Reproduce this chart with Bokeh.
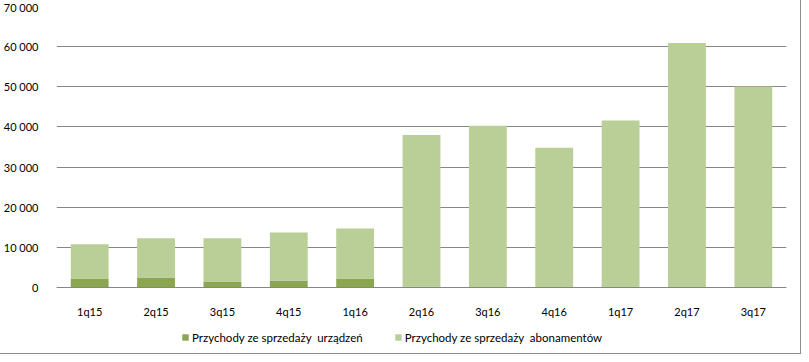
from bokeh.plotting import figure
from bokeh.models import FactorRange, CustomJSTickFormatter, Legend, LegendItem, ColumnDataSource
from bokeh.embed import file_html
from bokeh.resources import INLINE

quarters = ["1q15", "2q15", "3q15", "4q15", "1q16", "2q16", "3q16", "4q16", "1q17", "2q17", "3q17"]
devices = [2250, 2500, 1500, 1750, 2250, 250, 0, 0, 0, 0, 0]
totals = [10750, 12250, 12250, 13700, 14700, 38000, 40300, 34800, 41600, 60900, 50100]
subscriptions = [t - d for t, d in zip(totals, devices)]
series_names = ["Przychody ze sprzedaży  urządzeń", "Przychody ze sprzedaży  abonamentów"]
colors = ["#8AA650", "#BACE97"]
y_ticks = [0, 10000, 20000, 30000, 40000, 50000, 60000, 70000]

source = ColumnDataSource(dict(q=quarters, dev=devices, sub=subscriptions))

FONT = "Lato"
Y_MAX = 70000
# frame spans 340 px; 281 px hold 0..70000, the rest below 0 holds labels and legend
Y_MIN = -Y_MAX * 59 / 281

p = figure(x_range=FactorRange(*quarters), y_range=(Y_MIN, Y_MAX),
           width=793, height=346, output_backend="svg", toolbar_location=None,
           min_border_left=49, min_border_right=7, min_border_top=6, min_border_bottom=0)

r = p.vbar_stack(["dev", "sub"], x="q", width=0.57, color=colors, source=source, line_width=0)

p.outline_line_color = None
p.background_fill_color = "white"
p.border_fill_color = "white"
p.xgrid.grid_line_color = None
p.ygrid.ticker = y_ticks
p.ygrid.grid_line_color = "#868686"
p.ygrid.grid_line_width = 1

p.yaxis.ticker = y_ticks
p.yaxis.formatter = CustomJSTickFormatter(code='return tick.toFixed(0).replace(/\\B(?=(\\d{3})+(?!\\d))/g, " ");')
p.yaxis.axis_line_color = None
p.yaxis.major_tick_line_color = None
p.yaxis.minor_tick_line_color = None
p.yaxis.major_label_standoff = 12
p.yaxis.major_label_text_font = FONT
p.yaxis.major_label_text_font_size = "11px"
p.yaxis.major_label_text_color = "#000000"

p.xaxis.fixed_location = 0
p.xaxis.axis_line_color = "#868686"
p.xaxis.axis_line_width = 1
p.xaxis.major_tick_line_color = None
p.xaxis.minor_tick_line_color = None
p.xaxis.major_label_standoff = 11
p.xaxis.major_label_text_font = FONT
p.xaxis.major_label_text_font_size = "11px"
p.xaxis.major_label_text_color = "#000000"

legend = Legend(items=[LegendItem(label=series_names[0], renderers=[r[0]]),
                       LegendItem(label=series_names[1], renderers=[r[1]])],
                orientation="horizontal", location=(125, 2),
                label_text_font=FONT, label_text_font_size="11.5px", label_text_color="#000000",
                glyph_width=8, glyph_height=8, label_height=14, spacing=31, label_standoff=3,
                border_line_color=None, background_fill_alpha=0, padding=4, margin=0)
p.add_layout(legend, "center")

p.styles = {"outline": "1px solid #8c8c8c", "outline-offset": "7px"}

open("out.html", "w").write(file_html(p, INLINE))
